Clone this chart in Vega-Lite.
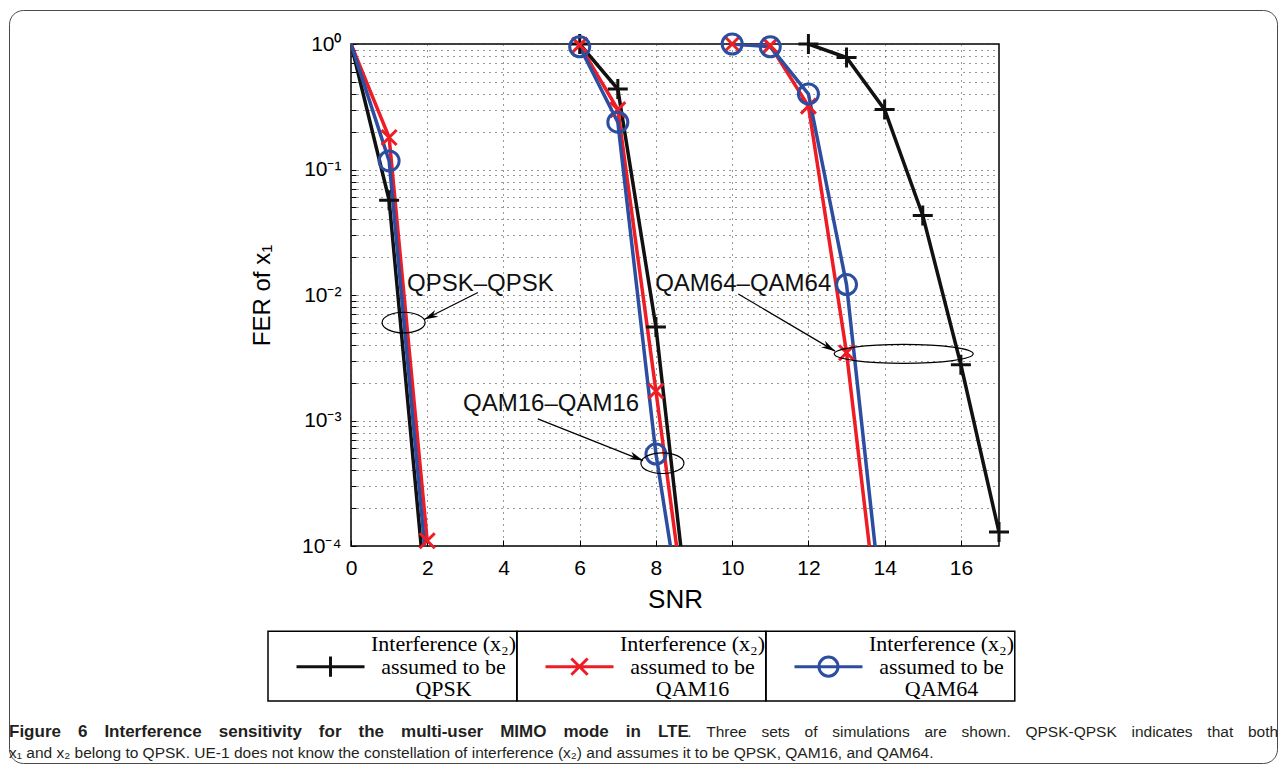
{
  "$schema": "https://vega.github.io/schema/vega-lite/v6.json",
  "width": 648,
  "height": 502,
  "autosize": {"type": "none"},
  "padding": {"left": 351, "top": 44, "right": 285, "bottom": 224},
  "background": "white",
  "datasets": {
    "curves": [
      {"assumed": "QPSK", "case": "QPSK-QPSK", "snr": 0, "fer": 1},
      {"assumed": "QPSK", "case": "QPSK-QPSK", "snr": 1, "fer": 0.057},
      {"assumed": "QPSK", "case": "QPSK-QPSK", "snr": 2, "fer": 0.00003},
      {"assumed": "QPSK", "case": "QAM16-QAM16", "snr": 6, "fer": 1},
      {"assumed": "QPSK", "case": "QAM16-QAM16", "snr": 7, "fer": 0.438},
      {"assumed": "QPSK", "case": "QAM16-QAM16", "snr": 8, "fer": 0.00555},
      {"assumed": "QPSK", "case": "QAM16-QAM16", "snr": 9, "fer": 0.0000115},
      {"assumed": "QPSK", "case": "QAM64-QAM64", "snr": 12, "fer": 1},
      {"assumed": "QPSK", "case": "QAM64-QAM64", "snr": 13, "fer": 0.78},
      {"assumed": "QPSK", "case": "QAM64-QAM64", "snr": 14, "fer": 0.30},
      {"assumed": "QPSK", "case": "QAM64-QAM64", "snr": 15, "fer": 0.043},
      {"assumed": "QPSK", "case": "QAM64-QAM64", "snr": 16, "fer": 0.00278},
      {"assumed": "QPSK", "case": "QAM64-QAM64", "snr": 17, "fer": 0.000129},
      {"assumed": "QAM16", "case": "QPSK-QPSK", "snr": 0, "fer": 1},
      {"assumed": "QAM16", "case": "QPSK-QPSK", "snr": 1, "fer": 0.18},
      {"assumed": "QAM16", "case": "QPSK-QPSK", "snr": 2, "fer": 0.00011},
      {"assumed": "QAM16", "case": "QAM16-QAM16", "snr": 6, "fer": 0.98},
      {"assumed": "QAM16", "case": "QAM16-QAM16", "snr": 7, "fer": 0.30},
      {"assumed": "QAM16", "case": "QAM16-QAM16", "snr": 8, "fer": 0.00172},
      {"assumed": "QAM16", "case": "QAM16-QAM16", "snr": 9, "fer": 0.0000089},
      {"assumed": "QAM16", "case": "QAM64-QAM64", "snr": 10, "fer": 1},
      {"assumed": "QAM16", "case": "QAM64-QAM64", "snr": 11, "fer": 0.97},
      {"assumed": "QAM16", "case": "QAM64-QAM64", "snr": 12, "fer": 0.32},
      {"assumed": "QAM16", "case": "QAM64-QAM64", "snr": 13, "fer": 0.00347},
      {"assumed": "QAM16", "case": "QAM64-QAM64", "snr": 14, "fer": 0.0000093},
      {"assumed": "QAM64", "case": "QPSK-QPSK", "snr": 0, "fer": 1},
      {"assumed": "QAM64", "case": "QPSK-QPSK", "snr": 1, "fer": 0.117},
      {"assumed": "QAM64", "case": "QPSK-QPSK", "snr": 2, "fer": 0.000059},
      {"assumed": "QAM64", "case": "QAM16-QAM16", "snr": 6, "fer": 0.95},
      {"assumed": "QAM64", "case": "QAM16-QAM16", "snr": 7, "fer": 0.238},
      {"assumed": "QAM64", "case": "QAM16-QAM16", "snr": 8, "fer": 0.00054},
      {"assumed": "QAM64", "case": "QAM16-QAM16", "snr": 9, "fer": 0.0000064},
      {"assumed": "QAM64", "case": "QAM64-QAM64", "snr": 10, "fer": 1},
      {"assumed": "QAM64", "case": "QAM64-QAM64", "snr": 11, "fer": 0.95},
      {"assumed": "QAM64", "case": "QAM64-QAM64", "snr": 12, "fer": 0.40},
      {"assumed": "QAM64", "case": "QAM64-QAM64", "snr": 13, "fer": 0.0121},
      {"assumed": "QAM64", "case": "QAM64-QAM64", "snr": 14, "fer": 0.00002}
    ],
    "notes": [
      {"note": "QPSK–QPSK", "snr": 1.47, "fer": 0.0123},
      {"note": "QAM16–QAM16", "snr": 2.94, "fer": 0.00135},
      {"note": "QAM64–QAM64", "snr": 7.98, "fer": 0.0123}
    ],
    "smallEllipses": [
      {"note": "QPSK–QPSK", "snr": 1.38, "fer": 0.00603},
      {"note": "QAM16–QAM16", "snr": 8.17, "fer": 0.000457}
    ],
    "wideEllipses": [
      {"note": "QAM64–QAM64", "snr": 14.5, "fer": 0.0034}
    ],
    "arrows": [
      {"note": "QPSK–QPSK", "snr": 3.33, "fer": 0.01047, "snr2": 1.92, "fer2": 0.00638},
      {"note": "QAM16–QAM16", "snr": 4.9, "fer": 0.00103, "snr2": 7.66, "fer2": 0.000479},
      {"note": "QAM64–QAM64", "snr": 10.16, "fer": 0.0102, "snr2": 12.7, "fer2": 0.00357}
    ]
  },
  "title": {
    "text": "Figure\u20036\u2003Interference\u2003sensitivity\u2003for\u2003the\u2003multi-user\u2003MIMO\u2003mode\u2003in\u2003LTE",
    "subtitle": [
      "\u200b\u2003\u2003\u2003\u2003\u2003\u2003\u2003\u2003\u2003\u2003\u2003\u2003\u2003\u2003\u2003\u2003\u2003\u2003\u2003\u2003\u2003\u2003\u2003\u2003\u2003\u2003\u2003\u2003\u2003\u2003\u2003\u2003\u2003\u2003\u2003\u2003\u2003\u2003\u2003\u2003\u2003\u2003\u2003\u2002\u2005.\u2002\u2005\u2009Three\u2002\u2005\u2009sets\u2002\u2005\u2009of\u2002\u2005\u2009simulations\u2002\u2005\u2009are\u2002\u2005\u2009shown.\u2002\u2005\u2009QPSK-QPSK\u2002\u2005\u2009indicates\u2002\u2005\u2009that\u2002\u2005\u2009both",
      "x₁ and x₂ belong to QPSK. UE-1 does not know the constellation of interference (x₂) and assumes it to be QPSK, QAM16, and QAM64."
    ],
    "orient": "bottom",
    "anchor": "start",
    "frame": "group",
    "dx": -342,
    "offset": -40,
    "font": "Liberation Sans",
    "fontSize": 17,
    "fontWeight": "bold",
    "color": "#231f20",
    "subtitleFont": "Liberation Sans",
    "subtitleFontSize": 15.5,
    "subtitleFontWeight": "normal",
    "subtitleColor": "#231f20",
    "subtitlePadding": -15.6,
    "lineHeight": 21,
    "subtitleLineHeight": 21.5
  },
  "encoding": {
    "x": {
      "field": "snr", "type": "quantitative",
      "scale": {"domain": [0, 17], "nice": false, "zero": false},
      "axis": {
        "title": "SNR", "values": [0, 2, 4, 6, 8, 10, 12, 14, 16],
        "grid": true, "gridDash": [1, 5], "gridColor": "#333", "gridWidth": 1,
        "domain": false, "tickSize": -6, "tickColor": "#000", "tickWidth": 1,
        "labelPadding": 17, "labelFontSize": 21, "labelFont": "Liberation Sans", "labelColor": "#000",
        "labelFlush": false, "labelOverlap": false,
        "titleFontSize": 26, "titleFont": "Liberation Sans", "titleFontWeight": "normal", "titleColor": "#000", "titlePadding": 8
      }
    },
    "y": {
      "field": "fer", "type": "quantitative",
      "scale": {"type": "log", "domain": [0.0001, 1], "nice": false},
      "axis": {
        "title": "FER of x₁",
        "values": [0.0001, 0.0002, 0.0003, 0.0004, 0.0005, 0.0006, 0.0007, 0.0008, 0.0009, 0.001, 0.002, 0.003, 0.004, 0.005, 0.006, 0.007, 0.008, 0.009, 0.01, 0.02, 0.03, 0.04, 0.05, 0.06, 0.07, 0.08, 0.09, 0.1, 0.2, 0.3, 0.4, 0.5, 0.6, 0.7, 0.8, 0.9, 1],
        "labelExpr": "datum.value === 1 ? '10⁰' : datum.value === 0.1 ? '10⁻¹' : datum.value === 0.01 ? '10⁻²' : datum.value === 0.001 ? '10⁻³' : datum.value === 0.0001 ? '10⁻⁴' : ''",
        "grid": true, "gridDash": [1, 5], "gridColor": "#333", "gridWidth": 1,
        "domain": false, "tickSize": -5, "tickColor": "#000", "tickWidth": 1,
        "labelPadding": 15, "labelFontSize": 21, "labelFont": "Liberation Sans", "labelColor": "#000",
        "labelOverlap": false, "labelFlush": false,
        "titleFontSize": 24, "titleFont": "Liberation Sans", "titleFontWeight": "normal", "titleColor": "#000", "titlePadding": 27
      }
    }
  },
  "layer": [
    {
      "data": {"name": "curves"},
      "mark": {"type": "line", "strokeWidth": 3.5, "clip": true},
      "encoding": {
        "color": {
          "field": "assumed", "type": "nominal",
          "scale": {"domain": ["QPSK", "QAM16", "QAM64"], "range": ["#111111", "#ee1c25", "#2c4da0"]},
          "legend": {
            "orient": "none", "legendX": -83, "legendY": 587,
            "direction": "horizontal", "columns": 3, "title": null,
            "symbolSize": 4624, "symbolStrokeWidth": 3, "symbolOffset": 27, "symbolType": "stroke",
            "labelFont": "Liberation Serif", "labelFontSize": 22, "labelColor": "#000",
            "labelAlign": "center", "labelBaseline": "middle", "labelOffset": 77.5, "labelLimit": 400,
            "columnPadding": 0, "rowPadding": 0, "padding": 0, "gridAlign": "all",
            "labelExpr": "['Interference (x₂)\u2005', 'assumed to be', datum.label]",
            "encode": {
              "symbols": {"update": {
                "shape": {"signal": "datum.value === 'QPSK' ? 'M-1,0L1,0M0,-0.3L0,0.3' : datum.value === 'QAM16' ? 'M-1,0L1,0M-0.24,-0.24L0.24,0.24M-0.24,0.24L0.24,-0.24' : 'M-1,0L1,0M-0.28,0C-0.28,-0.155,-0.155,-0.28,0,-0.28C0.155,-0.28,0.28,-0.155,0.28,0C0.28,0.155,0.155,0.28,0,0.28C-0.155,0.28,-0.28,0.155,-0.28,0Z'"},
                "fill": {"value": "transparent"},
                "strokeWidth": {"value": 3}
              }},
              "labels": {"update": {"lineHeight": {"value": 22.5}, "dy": {"value": -22.5}}},
              "entries": {"update": {
                "width": {"value": 252}, "height": {"value": 69},
                "stroke": {"value": "#000"}, "strokeWidth": {"value": 1.5}
              }}
            }
          }
        },
        "detail": {"field": "case"}
      }
    },
    {
      "data": {"name": "curves"},
      "transform": [{"filter": "datum.snr > 0 && datum.fer >= 0.0001 && datum.assumed === 'QPSK'"}],
      "mark": {"type": "point", "filled": false, "stroke": "#111111", "strokeWidth": 3, "size": 400, "opacity": 1,
        "shape": "M-1,0L1,0M0,-1L0,1"},
      "encoding": {}
    },
    {
      "data": {"name": "curves"},
      "transform": [{"filter": "datum.snr > 0 && datum.fer >= 0.0001 && datum.assumed === 'QAM16'"}],
      "mark": {"type": "point", "filled": false, "stroke": "#ee1c25", "strokeWidth": 3, "size": 400, "opacity": 1,
        "shape": "M-0.75,-0.75L0.75,0.75M-0.75,0.75L0.75,-0.75"},
      "encoding": {}
    },
    {
      "data": {"name": "curves"},
      "transform": [{"filter": "datum.snr > 0 && datum.fer >= 0.0001 && datum.assumed === 'QAM64'"}],
      "mark": {"type": "point", "filled": false, "stroke": "#2c4da0", "strokeWidth": 3, "size": 400, "opacity": 1,
        "shape": "circle"},
      "encoding": {}
    },
    {
      "data": {"name": "smallEllipses"},
      "mark": {"type": "point", "filled": false, "stroke": "#000", "strokeWidth": 1.2, "size": 1849, "opacity": 1,
        "shape": "M-1,0C-1,-0.265,-0.552,-0.48,0,-0.48C0.552,-0.48,1,-0.265,1,0C1,0.265,0.552,0.48,0,0.48C-0.552,0.48,-1,0.265,-1,0Z"},
      "encoding": {}
    },
    {
      "data": {"name": "wideEllipses"},
      "mark": {"type": "point", "filled": false, "stroke": "#000", "strokeWidth": 1.2, "size": 19321, "opacity": 1,
        "shape": "M-1,0C-1,-0.076,-0.552,-0.137,0,-0.137C0.552,-0.137,1,-0.076,1,0C1,0.076,0.552,0.137,0,0.137C-0.552,0.137,-1,0.076,-1,0Z"},
      "encoding": {}
    },
    {
      "data": {"name": "arrows"},
      "mark": {"type": "rule", "stroke": "#000", "strokeWidth": 1.2},
      "encoding": {
        "x2": {"field": "snr2"},
        "y2": {"field": "fer2"}
      }
    },
    {
      "data": {"name": "arrows"},
      "transform": [{"filter": "datum.note === 'QPSK–QPSK'"}],
      "mark": {"type": "point", "filled": true, "fill": "#000", "stroke": null, "size": 196, "opacity": 1, "angle": 154,
        "shape": "M0,0L-2,-0.55L-1.4,0L-2,0.55Z"},
      "encoding": {"x": {"field": "snr2", "type": "quantitative"}, "y": {"field": "fer2", "type": "quantitative"}}
    },
    {
      "data": {"name": "arrows"},
      "transform": [{"filter": "datum.note === 'QAM16–QAM16'"}],
      "mark": {"type": "point", "filled": true, "fill": "#000", "stroke": null, "size": 196, "opacity": 1, "angle": 22,
        "shape": "M0,0L-2,-0.55L-1.4,0L-2,0.55Z"},
      "encoding": {"x": {"field": "snr2", "type": "quantitative"}, "y": {"field": "fer2", "type": "quantitative"}}
    },
    {
      "data": {"name": "arrows"},
      "transform": [{"filter": "datum.note === 'QAM64–QAM64'"}],
      "mark": {"type": "point", "filled": true, "fill": "#000", "stroke": null, "size": 196, "opacity": 1, "angle": 30.6,
        "shape": "M0,0L-2,-0.55L-1.4,0L-2,0.55Z"},
      "encoding": {"x": {"field": "snr2", "type": "quantitative"}, "y": {"field": "fer2", "type": "quantitative"}}
    },
    {
      "data": {"name": "notes"},
      "mark": {"type": "text", "align": "left", "baseline": "middle", "fontSize": 24, "font": "Liberation Sans"},
      "encoding": {
        "text": {"field": "note"},
        "fill": {
          "field": "snr", "type": "quantitative",
          "scale": {"range": ["#111111", "#111111"]},
          "legend": {
            "orient": "none", "legendX": -342, "legendY": -34,
            "direction": "horizontal", "title": null,
            "gradientLength": 1268, "gradientThickness": 752, "gradientStrokeWidth": 0,
            "labelExpr": "''", "labelFontSize": 1, "labelOffset": 0,
            "padding": 0, "strokeColor": "#4a4a4a", "cornerRadius": 14,
            "encode": {"gradient": {"update": {"opacity": {"value": 0}}}}
          }
        }
      }
    }
  ],
  "config": {
    "view": {"stroke": "#000", "strokeWidth": 1.5},
    "font": "Liberation Sans"
  }
}
